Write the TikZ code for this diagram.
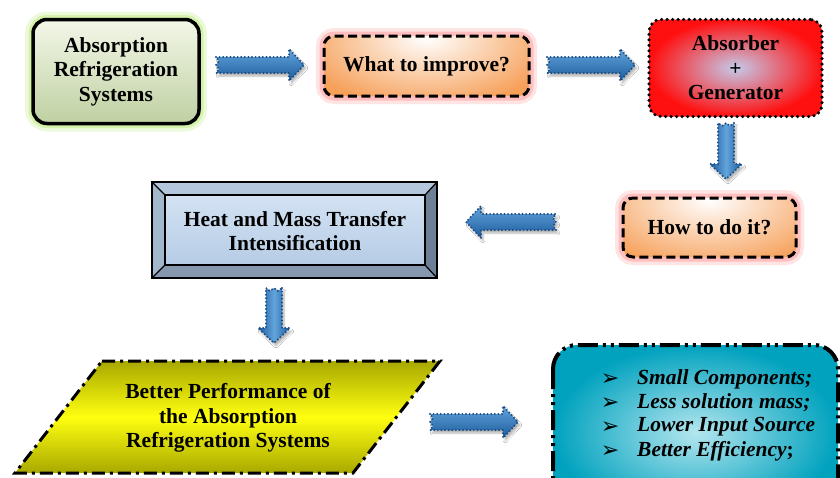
\documentclass[tikz,border=0pt]{standalone}
\usepackage{fontspec}
\setmainfont{Liberation Serif}
\newfontfamily\dejavu{DejaVu Sans}
\usetikzlibrary{shadows.blur,calc}
\definecolor{grnT}{HTML}{F3F7E8}
\definecolor{grnB}{HTML}{BFD0A2}
\definecolor{grnG}{HTML}{C4EE88}
\definecolor{orgC}{HTML}{F6A05A}
\definecolor{glowR}{HTML}{FF7A7A}
\definecolor{redC}{HTML}{FF1010}
\definecolor{lavC}{HTML}{C4CAEA}
\definecolor{bvTop}{HTML}{B4C6DB}
\definecolor{bvLeft}{HTML}{A2B6CC}
\definecolor{bvRight}{HTML}{6E8096}
\definecolor{bvBot}{HTML}{8698AE}
\definecolor{bvInT}{HTML}{D3E2F3}
\definecolor{bvInB}{HTML}{B6CCE5}
\definecolor{yelD}{HTML}{A8A800}
\definecolor{yelM}{HTML}{FFFF10}
\definecolor{tealD}{HTML}{00A2BE}
\definecolor{tealL}{HTML}{B4E6EF}
\definecolor{arrL}{HTML}{62A4DC}
\definecolor{arrB}{HTML}{1D5B9C}
\definecolor{arrDot}{HTML}{174C85}
\tikzset{
  txt/.style={font=\fontsize{21.5}{24.5}\selectfont\bfseries, align=center, inner sep=0pt},
  greenbox/.style={draw=black, line width=3.5pt, rounded corners=14pt,
    top color=grnT, bottom color=grnB,
    preaction={draw=grnG, solid, line width=16pt, opacity=0.3},
    preaction={draw=grnG, solid, line width=9pt, opacity=0.6}},
  orangebox/.style={draw=black, line width=3pt, dash pattern=on 9pt off 4.5pt, rounded corners=10pt,
    fill=orgC,
    preaction={draw=glowR, solid, line width=16pt, opacity=0.2},
    preaction={draw=glowR, solid, line width=9pt, opacity=0.35},
    path picture={\shade[inner color=white, outer color=orgC]
      ($(path picture bounding box.north)+(0,2)$) ellipse (130pt and 70pt);}},
  redbox/.style={draw=black, line width=3.5pt, dash pattern=on 0pt off 5.5pt, line cap=round,
    rounded corners=12pt, inner color=lavC, outer color=redC},
  bevline/.style={draw=black, line width=1.2pt, line join=miter},
  arrowst/.style={draw=arrDot, line width=2.2pt, dash pattern=on 0pt off 3.6pt, line cap=round,
    blur shadow={shadow xshift=2pt, shadow yshift=-3pt, shadow blur steps=6, shadow opacity=30}},
  hshade/.style={top color=arrL, bottom color=arrB},
  vshade/.style={left color=arrB, right color=arrB, middle color=arrL},
  listtxt/.style={inner sep=0pt, anchor=west, font=\fontsize{21.5}{24.5}\selectfont\bfseries\itshape},
}
\newcommand\blockarrow[4]{%
  \begin{scope}[shift={#1}, rotate=#2]
    \path[arrowst, #4] (0,-8) -- ({#3-15},-8) -- ({#3-15},-16) -- (#3,0)
      -- ({#3-15},16) -- ({#3-15},8) -- (0,8) -- (3,4) -- (0,0) -- (3,-4) -- cycle;
  \end{scope}}
\begin{document}
\begin{tikzpicture}[x=1pt,y=-1pt]
\clip (0,0) rectangle (840,477);
\fill[white] (0,0) rectangle (840,477);

% top row
\node[greenbox, txt, minimum width=166pt, minimum height=104pt] (ars) at (116,71.5)
  {Absorption\\Refrigeration\\Systems};
\node[orangebox, txt, minimum width=205pt, minimum height=60pt] (what) at (426.5,66)
  {What to improve?};
\node[redbox, txt, minimum width=173pt, minimum height=97pt] (ag) at (735.5,68)
  {Absorber\\+\\Generator};
\node[orangebox, txt, minimum width=173pt, minimum height=59pt] (how) at (709.5,227.5)
  {How to do it?};

% bevelled box
\coordinate (o1) at (152,182); \coordinate (o2) at (437,182);
\coordinate (o3) at (437,278); \coordinate (o4) at (152,278);
\coordinate (i1) at (165,195); \coordinate (i2) at (425,195);
\coordinate (i3) at (425,265); \coordinate (i4) at (165,265);
\fill[bvTop] (o1) -- (o2) -- (i2) -- (i1) -- cycle;
\fill[bvLeft] (o1) -- (i1) -- (i4) -- (o4) -- cycle;
\fill[bvRight] (o2) -- (o3) -- (i3) -- (i2) -- cycle;
\fill[bvBot] (o4) -- (i4) -- (i3) -- (o3) -- cycle;
\shade[top color=bvInT, bottom color=bvInB] (i1) rectangle (i3);
\draw[bevline] (i1) rectangle (i3);
\draw[bevline] (o1) -- (i1) (o2) -- (i2) (o3) -- (i3) (o4) -- (i4);
\draw[black, line width=2.8pt] (o1) rectangle (o3);
\node[txt] (hmt) at (295,231) {Heat and Mass Transfer\\Intensification};

% parallelogram
\draw[line width=3pt, dash pattern=on 13pt off 5pt on 3pt off 5pt, line join=miter,
  top color=yelD, bottom color=yelD, middle color=yelM]
  (102,361) -- (440,361) -- (353,473) -- (15,473) -- cycle;
\node[txt] (perf) at (228,418) {Better Performance of\\the Absorption\\Refrigeration Systems};

% teal box
\draw[line width=4pt, dash pattern=on 20pt off 5pt on 3pt off 5pt on 3pt off 5pt,
  rounded corners=24pt, inner color=tealL, outer color=tealD]
  (553,345) rectangle (838,520);
\foreach \yy/\nm in {380/b1,404/b2,428/b3,452/b4}
  \node[inner sep=0pt, font=\dejavu\fontsize{22}{22}\selectfont] (\nm) at (610,\yy) {➢};
\node[listtxt] (l1) at (637,379) {Small Components;};
\node[listtxt] (l2) at (637,403) {Less solution mass;};
\node[listtxt] (l3) at (637,427) {Lower Input Source};
\node[listtxt] (l4) at (637,451) {Better Efficiency\upshape;};

% block arrows
\coordinate (a1) at (216,65);
\coordinate (a2) at (547,65);
\coordinate (a3) at (726,123);
\coordinate (a4) at (556,222);
\coordinate (a5) at (274,288);
\coordinate (a6) at (430,422);
\blockarrow{(a1)}{0}{88}{hshade}
\blockarrow{(a2)}{0}{88}{hshade}
\blockarrow{(a3)}{-90}{56}{vshade}
\blockarrow{(a4)}{180}{90}{hshade}
\blockarrow{(a5)}{-90}{55}{vshade}
\blockarrow{(a6)}{0}{88}{hshade}
\end{tikzpicture}
\end{document}
